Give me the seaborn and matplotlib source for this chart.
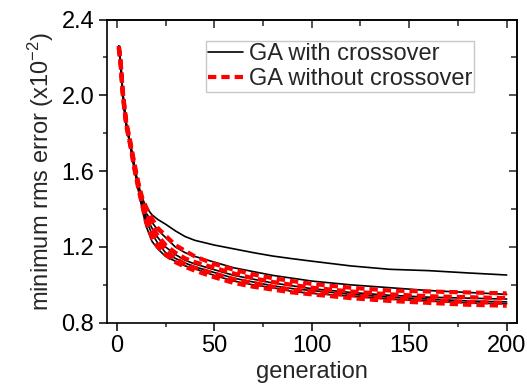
import numpy as np
import pandas as pd
import matplotlib
matplotlib.use("Agg")
import matplotlib.pyplot as plt
from matplotlib.ticker import MultipleLocator, FormatStrFormatter
from matplotlib.lines import Line2D
import seaborn as sns

# ---------------- data ----------------
generations = [1, 2, 3, 4, 5, 7, 9, 11, 13, 15, 18, 21, 25, 30, 35, 40,
               50, 60, 70, 80, 90, 100, 120, 140, 160, 180, 200]

with_cx_1 = [2.26, 2.16, 2.02, 1.92, 1.84, 1.74, 1.63, 1.53, 1.46, 1.41, 1.37, 1.345, 1.32,
             1.285, 1.255, 1.235, 1.21, 1.19, 1.17, 1.152, 1.138, 1.125, 1.10, 1.082, 1.075, 1.063, 1.052]
with_cx_2 = [2.26, 2.17, 2.02, 1.92, 1.84, 1.74, 1.62, 1.52, 1.44, 1.38, 1.33, 1.29, 1.25,
             1.20, 1.17, 1.15, 1.12, 1.09, 1.07, 1.05, 1.035, 1.02, 1.00, 0.985, 0.97, 0.96, 0.95]
with_cx_3 = [2.25, 2.16, 2.01, 1.91, 1.83, 1.73, 1.61, 1.50, 1.40, 1.31, 1.23, 1.19, 1.15,
             1.125, 1.10, 1.085, 1.05, 1.02, 1.00, 0.985, 0.965, 0.955, 0.94, 0.925, 0.915, 0.905, 0.90]
with_cx_4 = [2.26, 2.17, 2.02, 1.92, 1.84, 1.74, 1.62, 1.51, 1.43, 1.36, 1.30, 1.25, 1.20,
             1.16, 1.13, 1.11, 1.08, 1.05, 1.03, 1.01, 0.995, 0.98, 0.96, 0.945, 0.935, 0.93, 0.925]
with_cx_5 = [2.25, 2.16, 2.01, 1.91, 1.83, 1.73, 1.61, 1.51, 1.42, 1.34, 1.27, 1.22, 1.17,
             1.14, 1.115, 1.095, 1.065, 1.035, 1.015, 0.995, 0.98, 0.97, 0.95, 0.935, 0.925, 0.915, 0.91]

without_cx_1 = [2.26, 2.17, 2.03, 1.93, 1.85, 1.75, 1.64, 1.54, 1.46, 1.41, 1.35, 1.30, 1.26,
                1.21, 1.18, 1.15, 1.11, 1.08, 1.055, 1.035, 1.02, 1.005, 0.985, 0.97, 0.965, 0.96, 0.955]
without_cx_2 = [2.26, 2.17, 2.02, 1.92, 1.84, 1.74, 1.63, 1.53, 1.44, 1.38, 1.31, 1.26, 1.21,
                1.17, 1.14, 1.12, 1.09, 1.06, 1.035, 1.015, 1.00, 0.985, 0.965, 0.95, 0.94, 0.935, 0.93]
without_cx_3 = [2.25, 2.16, 2.02, 1.92, 1.84, 1.74, 1.62, 1.52, 1.43, 1.36, 1.28, 1.23, 1.18,
                1.14, 1.11, 1.09, 1.06, 1.03, 1.01, 0.99, 0.975, 0.965, 0.945, 0.93, 0.92, 0.91, 0.905]
without_cx_4 = [2.25, 2.16, 2.01, 1.91, 1.83, 1.73, 1.61, 1.51, 1.42, 1.33, 1.25, 1.20, 1.16,
                1.12, 1.095, 1.075, 1.04, 1.01, 0.99, 0.975, 0.96, 0.95, 0.93, 0.915, 0.905, 0.895, 0.89]

series_labels = ["GA with crossover", "GA without crossover"]
x_ticks = [0, 50, 100, 150, 200]
y_ticks = [0.8, 1.2, 1.6, 2.0, 2.4]

runs = {
    series_labels[0]: [with_cx_1, with_cx_2, with_cx_3, with_cx_4, with_cx_5],
    series_labels[1]: [without_cx_1, without_cx_2, without_cx_3, without_cx_4],
}

rows = []
for method, lst in runs.items():
    for i, vals in enumerate(lst):
        for g, v in zip(generations, vals):
            rows.append({"generation": g, "value": v, "run": f"{method}-{i}", "method": method})
df = pd.DataFrame(rows)

# ---------------- style ----------------
sns.set_style("ticks")
plt.rcParams["font.family"] = ["Liberation Sans", "DejaVu Sans"]
plt.rcParams["mathtext.default"] = "regular"
FS = 17

fig = plt.figure(figsize=(5.27, 3.87), dpi=100)
ax = fig.add_axes([0.2025, 0.166, 0.7785, 0.7835])

red_dash = (2.0, 1.2)
for method, color, lw, dashes in [(series_labels[0], "black", 1.2, None),
                                  (series_labels[1], "#ff0000", 3.0, red_dash)]:
    sub = df[df["method"] == method]
    for run_name, g in sub.groupby("run", sort=False):
        kw = dict(data=g, x="generation", y="value", ax=ax, color=color,
                  linewidth=lw, legend=False, estimator=None, sort=False)
        line_ax = sns.lineplot(**kw)
        if dashes is not None:
            line_ax.lines[-1].set_dashes(dashes)
            line_ax.lines[-1].set_dash_capstyle("butt")

ax.set_xlim(-5.2, 205.3)
ax.set_ylim(0.8, 2.4)
ax.xaxis.set_major_locator(MultipleLocator(50))
ax.xaxis.set_minor_locator(MultipleLocator(25))
ax.yaxis.set_major_locator(MultipleLocator(0.4))
ax.yaxis.set_minor_locator(MultipleLocator(0.2))
ax.yaxis.set_major_formatter(FormatStrFormatter("%.1f"))
ax.set_xticks(x_ticks)
ax.set_yticks(y_ticks)

ax.tick_params(which="major", direction="out", length=6, width=1.1, labelsize=FS,
               pad=3, colors="black")
ax.tick_params(which="minor", direction="out", length=3, width=1.1)
for sp in ax.spines.values():
    sp.set_visible(True)
    sp.set_linewidth(1.2)
    sp.set_color("black")

# inward ticks on top and right
top = ax.secondary_xaxis("top")
top.xaxis.set_major_locator(MultipleLocator(50))
top.xaxis.set_minor_locator(MultipleLocator(25))
top.tick_params(which="major", direction="in", length=6, width=1.1, labeltop=False)
top.tick_params(which="minor", direction="in", length=4, width=1.1)
top.spines["top"].set_linewidth(1.2)
right = ax.secondary_yaxis("right")
right.yaxis.set_major_locator(MultipleLocator(0.4))
right.yaxis.set_minor_locator(MultipleLocator(0.2))
right.tick_params(which="major", direction="in", length=6, width=1.1, labelright=False)
right.tick_params(which="minor", direction="in", length=4, width=1.1)
right.spines["right"].set_linewidth(1.2)

ax.set_xlabel("generation", fontsize=FS, labelpad=3)
ax.set_ylabel(r"minimum rms error (x10$^{-2}$)", fontsize=FS, labelpad=4)

handles = [Line2D([], [], color="black", linewidth=1.2),
           Line2D([], [], color="#ff0000", linewidth=3.0, dashes=red_dash, dash_capstyle="butt")]
leg = ax.legend(handles, series_labels, loc="upper left", bbox_to_anchor=(0.242, 0.929),
                fontsize=FS, frameon=True, fancybox=False, framealpha=1,
                edgecolor="#c8c8c8", borderpad=0.1, borderaxespad=0,
                handlelength=1.45, handletextpad=0.25, labelspacing=0.1)
leg.get_frame().set_linewidth(1.0)

fig.savefig("out.png", dpi=100)
